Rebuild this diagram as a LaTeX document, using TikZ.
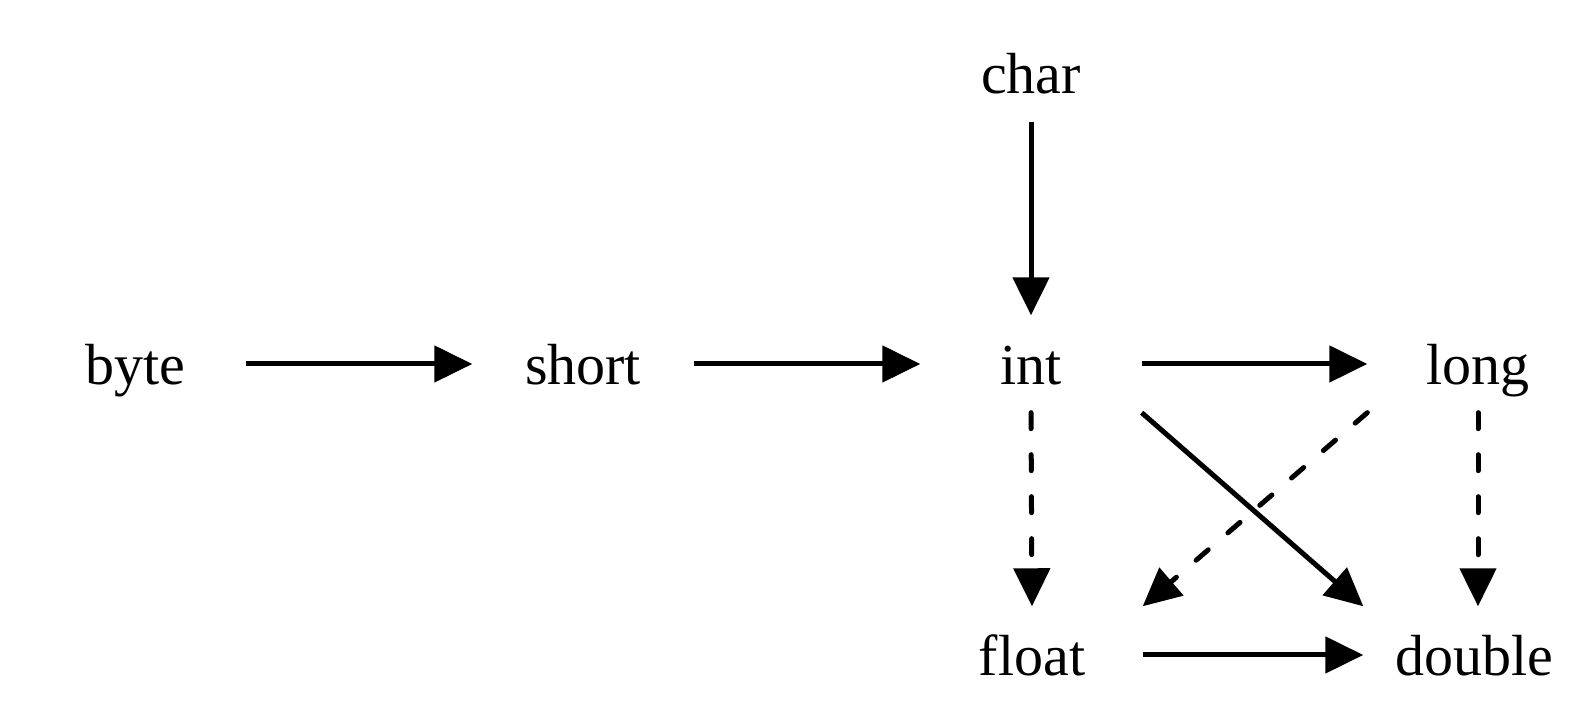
\documentclass[tikz,border=0pt]{standalone}
\usepackage{fontspec}
\setmainfont{Liberation Serif}
\usepackage{tikz}
\usetikzlibrary{positioning,arrows.meta,calc}

\begin{document}
\begin{tikzpicture}[
    typ/.style={anchor=base, minimum width=2.2cm, minimum height=0.96cm, inner sep=0pt,
                text height=15pt, text depth=3.6pt, font=\fontsize{16.5}{20}\selectfont},
    arr/.style={-{Triangle[length=3.8mm, width=3.6mm]}, line width=0.5mm},
    darr/.style={arr, line cap=round, dash pattern=on 1.6mm off 2.6mm},
]
\useasboundingbox (0,0) rectangle (15.9,-7.18);

% Row 1: integer types
\node[typ] (byte) at (1.35,-3.84) {byte};
\node[typ] (short) at (5.83,-3.84) {short};
\node[typ] (int) at (10.31,-3.84) {int};
\node[typ] (long) at (14.78,-3.84) {long};

% char above int
\node[typ] (char) at (10.31,-0.93) {char};

% Row 2: floating point
\node[typ] (float) at (10.32,-6.75) {float};
\node[typ] (double) at (14.74,-6.75) {double};

% Widening (no loss)
\draw[arr] (byte) -- (short);
\draw[arr] (short) -- (int);
\draw[arr] (int) -- (long);
\draw[arr] (char) -- (int);
\draw[arr] (int.south east) -- (double.north west);
\draw[arr] (float) -- (double);

% Possible precision loss
\draw[darr] (int.south) -- (float.north);
\draw[darr] (long.south west) -- (float.north east);
\draw[darr] (long.south) -- (long.south |- double.north);

\end{tikzpicture}
\end{document}
